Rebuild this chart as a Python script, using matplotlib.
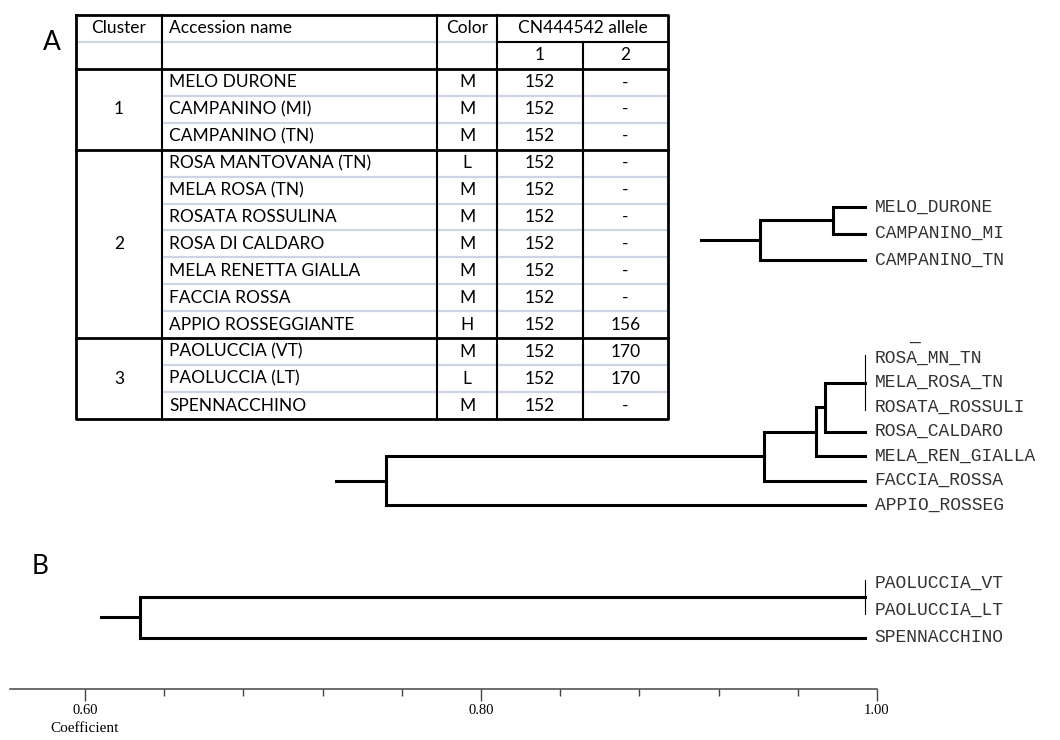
import matplotlib
matplotlib.use("Agg")
import matplotlib.pyplot as plt
from matplotlib.ticker import MultipleLocator

# ---- table data ----
header = ["Cluster", "Accession name", "Color", "CN444542 allele"]
subheader = ["1", "2"]
clusters = ["1", "2", "3"]
cluster_sizes = [3, 7, 3]
accessions = ["MELO DURONE", "CAMPANINO (MI)", "CAMPANINO (TN)",
              "ROSA MANTOVANA (TN)", "MELA ROSA (TN)", "ROSATA ROSSULINA",
              "ROSA DI CALDARO", "MELA RENETTA GIALLA", "FACCIA ROSSA",
              "APPIO ROSSEGGIANTE", "PAOLUCCIA (VT)", "PAOLUCCIA (LT)",
              "SPENNACCHINO"]
fruit_color = ["M", "M", "M", "L", "M", "M", "M", "M", "M", "H", "M", "L", "M"]
allele1 = ["152", "152", "152", "152", "152", "152", "152", "152", "152",
           "152", "152", "152", "152"]
allele2 = ["-", "-", "-", "-", "-", "-", "-", "-", "-", "156", "170", "170", "-"]

# ---- dendrogram data (coefficient of each merge) ----
leaves1 = ["MELO_DURONE", "CAMPANINO_MI", "CAMPANINO_TN"]
merges1 = [((0, 1), 0.984), ((3, 2), 0.947)]
root1 = 0.917

leaves2 = ["ROSA_MN_TN", "MELA_ROSA_TN", "ROSATA_ROSSULI", "ROSA_CALDARO",
           "MELA_REN_GIALLA", "FACCIA_ROSSA", "APPIO_ROSSEG"]
merges2 = [((0, 1, 2), 1.00), ((7, 3), 0.980), ((8, 4), 0.975),
           ((9, 5), 0.949), ((10, 6), 0.758)]
root2 = 0.733

leaves3 = ["PAOLUCCIA_VT", "PAOLUCCIA_LT", "SPENNACCHINO"]
merges3 = [((0, 1), 1.00), ((3, 2), 0.634)]
root3 = 0.614

axis_major = [0.60, 0.80, 1.00]
axis_labels = ["0.60", "0.80", "1.00"]

W, H = 1060, 740
fig = plt.figure(figsize=(W / 100, H / 100), dpi=100)


def px_axes(x0, y0, x1, y1):
    return fig.add_axes([x0 / W, 1 - y1 / H, (x1 - x0) / W, (y1 - y0) / H])


# ---------------- table ----------------
tfont = dict(family="Lato", fontsize=12.5, color="black")
col_w = [86, 275.5, 60, 86, 85]
edges = [0]
for w in col_w:
    edges.append(edges[-1] + w)
nrows = 2 + len(accessions)

axt = px_axes(76, 15, 668, 419)
axt.set_xlim(0, edges[-1])
axt.set_ylim(nrows, 0)
axt.axis("off")

blue = "#CDD5E4"
blk = dict(color="black", clip_on=False, solid_capstyle="projecting")

# light blue row lines
axt.plot([0, edges[3]], [1, 1], color=blue, lw=1.6)
bounds = [2]
for s in cluster_sizes:
    bounds.append(bounds[-1] + s)
for r in range(3, nrows):
    if r not in bounds:
        axt.plot([edges[1], edges[-1]], [r, r], color=blue, lw=1.6)

# black lines
axt.plot([edges[3], edges[5]], [1, 1], lw=1.5, **blk)
for b in bounds[:-1]:
    axt.plot([0, edges[-1]], [b, b], lw=2.0, **blk)
for e in edges[1:4]:
    axt.plot([e, e], [0, nrows], lw=1.5, **blk)
axt.plot([edges[4], edges[4]], [1, nrows], lw=1.5, **blk)
axt.plot([0, edges[-1], edges[-1], 0, 0], [0, 0, nrows, nrows, 0], lw=2.0, **blk)

# header text
axt.text((edges[0] + edges[1]) / 2, 0.5, header[0], ha="center", va="center", **tfont)
axt.text(edges[1] + 7, 0.5, header[1], ha="left", va="center", **tfont)
axt.text((edges[2] + edges[3]) / 2, 0.5, header[2], ha="center", va="center", **tfont)
axt.text((edges[3] + edges[5]) / 2, 0.5, header[3], ha="center", va="center", **tfont)
axt.text((edges[3] + edges[4]) / 2, 1.5, subheader[0], ha="center", va="center", **tfont)
axt.text((edges[4] + edges[5]) / 2, 1.5, subheader[1], ha="center", va="center", **tfont)

for i, c in enumerate(clusters):
    mid = (bounds[i] + bounds[i + 1]) / 2
    axt.text((edges[0] + edges[1]) / 2, mid, c, ha="center", va="center", **tfont)

for i in range(len(accessions)):
    y = 2.5 + i
    axt.text(edges[1] + 7, y, accessions[i], ha="left", va="center", **tfont)
    axt.text((edges[2] + edges[3]) / 2, y, fruit_color[i], ha="center", va="center", **tfont)
    axt.text((edges[3] + edges[4]) / 2, y, allele1[i], ha="center", va="center", **tfont)
    axt.text((edges[4] + edges[5]) / 2, y, allele2[i], ha="center", va="center", **tfont)

fig.text(52 / W, 1 - 42 / H, "A", family="Lato", fontsize=19, ha="center", va="center")
fig.text(40 / W, 1 - 566 / H, "B", family="Lato", fontsize=19, ha="center", va="center")

# ---------------- dendrograms ----------------
thick = 2.2
thin = 0.8
lab = dict(family="Liberation Mono", fontsize=13, color="#333333")
x_left = 1 - 855 / 1980


def draw_tree(first_y, step, names, merges, root_from):
    n = len(names)
    ax = px_axes(10, first_y - step / 2, 865, first_y + step * (n - 0.5))
    ax.set_xlim(x_left, 1.0)
    ax.set_ylim(n - 0.5, -0.5)
    ax.axis("off")
    pos = {i: (1.0, float(i)) for i in range(n)}
    nid = n
    for kids, h in merges:
        ys = [pos[k][1] for k in kids]
        if h >= 1.0:
            ax.plot([h, h], [min(ys) - 0.12, max(ys) + 0.12], color="black",
                    lw=thin, clip_on=False)
        else:
            ks = sorted(kids, key=lambda k: pos[k][1])
            a, b = pos[ks[0]], pos[ks[-1]]
            ax.plot([a[0], h, h, b[0]], [a[1], a[1], b[1], b[1]], color="black",
                    lw=thick, clip_on=False, solid_joinstyle="miter")
        pos[nid] = (h, (min(ys) + max(ys)) / 2)
        nid += 1
    top = pos[nid - 1]
    ax.plot([root_from, top[0]], [top[1], top[1]], color="black", lw=thick,
            clip_on=False)
    for i, nm in enumerate(names):
        ax.annotate(nm, xy=(1.0, i), xytext=(7, 0), textcoords="offset points",
                    ha="left", va="center", annotation_clip=False, **lab)
    return ax


draw_tree(207, 26.5, leaves1, merges1, root1)
ax2 = draw_tree(358, 24.5, leaves2, merges2, root2)
ax2.annotate("_", xy=(1.0, -0.72), xytext=(32, 0), textcoords="offset points",
             ha="left", va="baseline", annotation_clip=False, **lab)
draw_tree(583, 27.5, leaves3, merges3, root3)

# ---------------- coefficient axis ----------------
axa = px_axes(10, 660, 877, 689)
axa.set_xlim(0.60 - 75 / 1980, 1.0)
axa.set_ylim(0, 1)
for s in ["top", "left", "right"]:
    axa.spines[s].set_visible(False)
axa.spines["bottom"].set_color("#444444")
axa.spines["bottom"].set_linewidth(1.1)
axa.set_yticks([])
axa.set_xticks(axis_major)
axa.set_xticklabels(axis_labels, family="Liberation Serif", fontsize=10.5)
axa.xaxis.set_minor_locator(MultipleLocator(0.04))
axa.tick_params(axis="x", which="major", direction="out", length=8.6, width=1.0,
                color="#444444", pad=2)
axa.tick_params(axis="x", which="minor", direction="out", length=5, width=1.0,
                color="#444444")
axa.patch.set_visible(False)
axa.annotate("Coefficient", xy=(0.60, 0), xycoords=("data", "axes fraction"),
             xytext=(0, -28.5), textcoords="offset points", ha="center", va="center",
             family="Liberation Serif", fontsize=11)

fig.savefig("out.png", dpi=100)
